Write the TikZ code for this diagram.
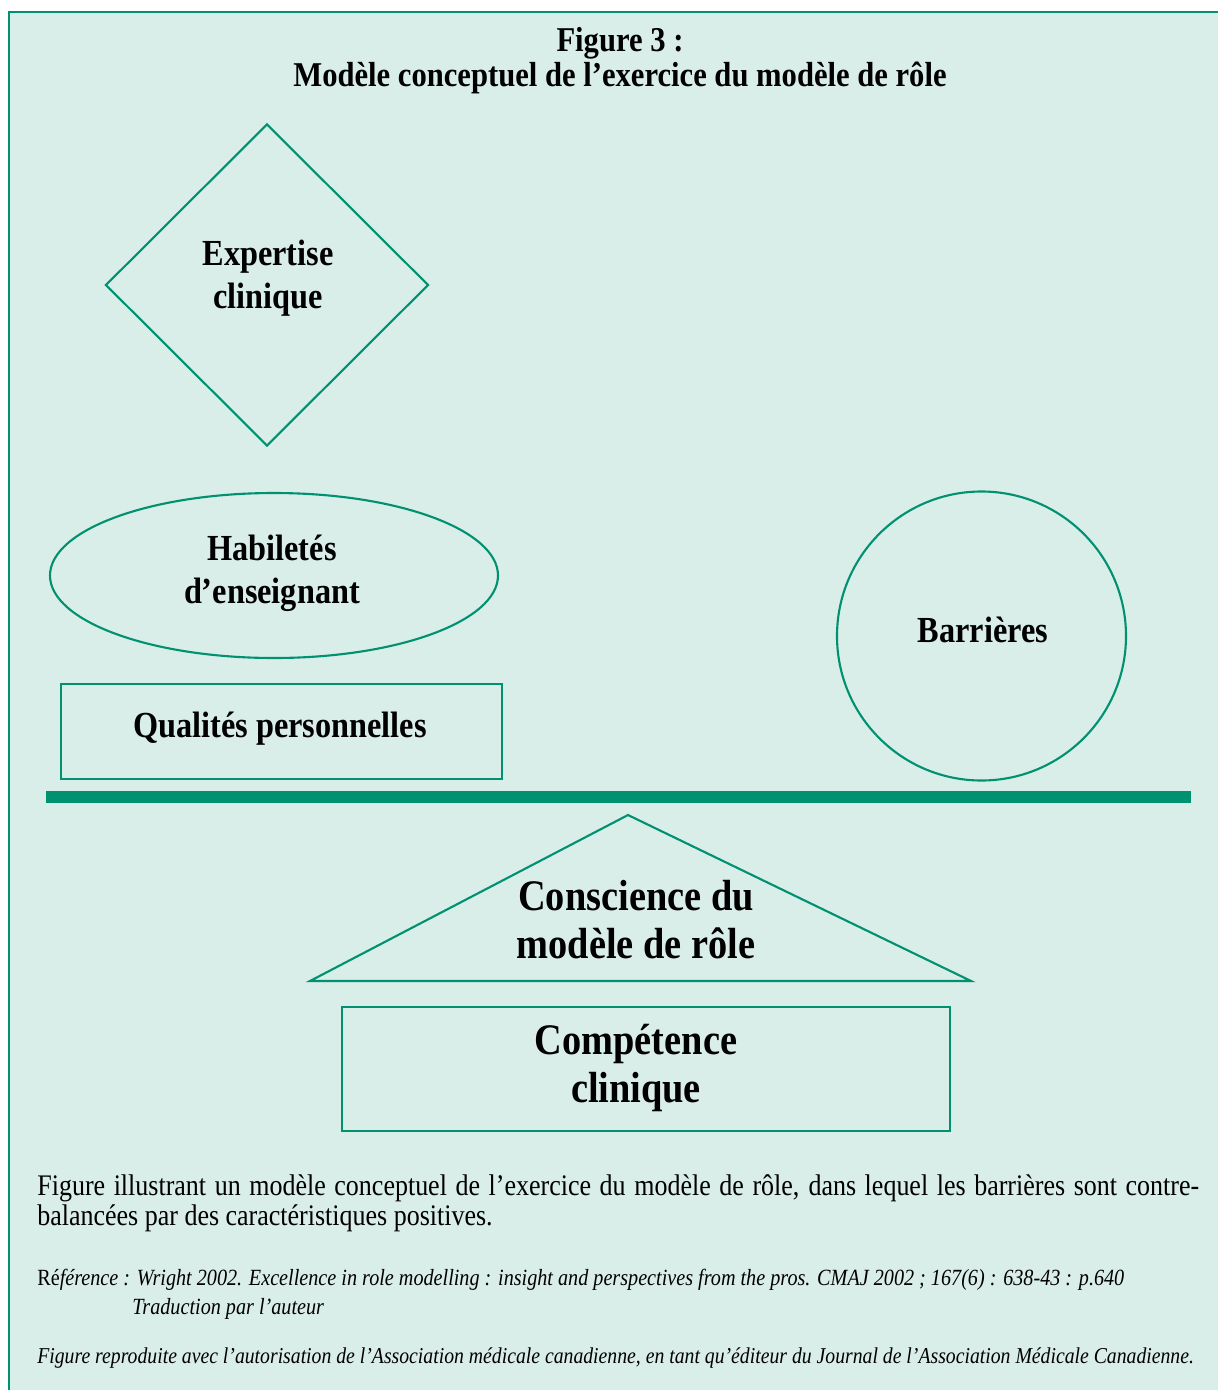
\documentclass[tikz,border=0pt]{standalone}
\usepackage{fontspec}
\setmainfont{Liberation Serif}
\newfontfamily\condfont[FakeStretch=0.88]{Liberation Serif}
\newfontfamily\captfont[FakeStretch=0.87]{Liberation Serif}
\usetikzlibrary{shapes.geometric}
\definecolor{mint}{RGB}{217,237,233}
\definecolor{vert}{RGB}{0,145,112}
\def\u{0.02cm}
\tikzset{
  shapeline/.style={draw=vert, line width=1.2pt, inner sep=0pt},
  lbl/.style={font=\condfont\bfseries\fontsize{20.9}{24.5}\selectfont, align=center, inner sep=0pt},
  biglbl/.style={font=\condfont\bfseries\fontsize{24.8}{27.3}\selectfont, align=center, inner sep=0pt},
  titlelbl/.style={font=\condfont\bfseries\fontsize{19.8}{19.6}\selectfont, align=center, inner sep=0pt},
  capt/.style={font=\captfont\fontsize{17}{17}\selectfont, inner sep=0pt, anchor=base west},
  refl/.style={font=\captfont\itshape\fontsize{13.2}{13}\selectfont, inner sep=0pt, anchor=base west}
}
\begin{document}
\begin{tikzpicture}[x=0.02cm,y=-0.02cm]
\useasboundingbox (0,0) rectangle (1218,1390);
\fill[white] (0,0) rectangle (1218,1390);
\fill[mint] (9,12) rectangle (1218,1390);
\draw[vert, line width=1.4pt] (9,1390) -- (9,12) -- (1218,12);

% title
\node[titlelbl] (title) at (620,60.5) {Figure 3 :\\Modèle conceptuel de l’exercice du modèle de rôle};

% diamond
\node[shapeline, diamond, minimum width=323*\u, minimum height=322*\u] (expd) at (267,285) {};
\node[lbl] (expt) at (268,278) {Expertise\\clinique};

% ellipse
\node[shapeline, ellipse, minimum width=448*\u, minimum height=165*\u] (habe) at (274,575.5) {};
\node[lbl] (habt) at (272,573) {Habiletés\\d’enseignant};

% rect qualites
\node[shapeline, rectangle, minimum width=441*\u, minimum height=95*\u] (qual) at (281.5,731.5) {};
\node[lbl] (qualt) at (280,729) {Qualités personnelles};

% circle barrieres
\node[shapeline, circle, minimum size=289*\u] (barc) at (981.5,636) {};
\node[lbl] (bart) at (983,630) {Barrières};

% bar
\node[fill=vert, inner sep=0pt, minimum width=1145*\u, minimum height=12*\u] (bar) at (618.5,797) {};

% triangle
\coordinate (tl) at (310,981);
\coordinate (ta) at (628,815);
\coordinate (tr) at (971,981);
\draw[vert, line width=1.2pt, line join=miter] (tl) -- (ta) -- (tr) -- cycle;
\node[biglbl] (cons) at (636,920) {Conscience du\\modèle de rôle};

% rect competence
\node[shapeline, rectangle, minimum width=608*\u, minimum height=124*\u] (comp) at (646,1069) {};
\node[biglbl] (compt) at (636,1068) {Compétence\\clinique};

% caption
\node[capt] (c1) at (37,1195) {\makebox[23.24cm][s]{Figure illustrant un modèle conceptuel de l’exercice du modèle de rôle, dans lequel les barrières sont contre-}};
\node[capt] (c2) at (37,1225) {balancées par des caractéristiques positives.};
\node[refl] (r1) at (37,1285) {{\upshape Ré}férence : Wright 2002. Excellence in role modelling : insight and perspectives from the pros. CMAJ 2002 ; 167(6) : 638-43 : p.640};
\node[refl] (r2) at (132,1314) {Traduction par l’auteur};
\node[refl, font=\captfont\itshape\fontsize{12.9}{13}\selectfont] (r3) at (37,1363) {Figure reproduite avec l’autorisation de l’Association médicale canadienne, en tant qu’éditeur du Journal de l’Association Médicale Canadienne.};
\end{tikzpicture}
\end{document}
